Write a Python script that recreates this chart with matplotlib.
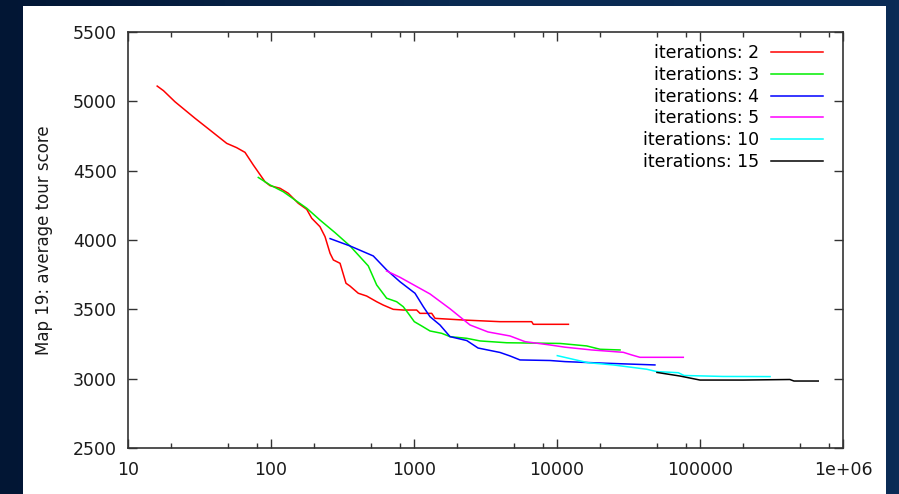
import numpy as np
import matplotlib
matplotlib.use('Agg')
import matplotlib.pyplot as plt
from matplotlib.patches import Rectangle
from matplotlib.ticker import FixedLocator, FixedFormatter

# values (x = iterations run, y = average tour score)
it2_x = [16, 17.7, 21.3, 29.4, 37.4, 49, 57.5, 65.8, 75.2, 90.8, 98.4, 115.6, 132, 155,
         177.8, 192.6, 220, 238.7, 258.8, 273, 304, 334.5, 356.6, 407.6, 466.5, 548,
         609, 716, 841, 1044, 1101, 1330, 1403, 2213, 3994, 6650, 6829, 12020]
it2_y = [5110, 5077, 4997, 4878, 4793, 4697, 4666, 4632, 4541, 4420, 4392, 4373, 4337, 4265,
         4221, 4157, 4096, 4024, 3904, 3856, 3832, 3688, 3668, 3616, 3596, 3555,
         3531, 3500, 3495, 3495, 3471, 3471, 3435, 3423, 3411, 3411, 3392, 3392]

it3_x = [81.5, 98.4, 121.9, 177.8, 220, 280.5, 357, 479, 548, 644, 756, 841, 912,
         1005, 1132, 1294, 1563, 1786, 2337, 2897, 4449, 10500, 16140, 20000, 27600]
it3_y = [4451, 4397, 4348, 4229, 4144, 4053, 3957, 3813, 3676, 3580, 3555, 3519, 3471,
         3411, 3380, 3344, 3327, 3303, 3291, 3272, 3259, 3254, 3236, 3212, 3207]

it4_x = [259, 357, 519, 644, 798, 1016, 1162, 1294, 1520, 1786, 2337, 2805, 3994,
         4690, 5510, 8930, 11380, 22230, 48400]
it4_y = [4010, 3957, 3885, 3784, 3699, 3616, 3519, 3447, 3387, 3303, 3275, 3221, 3189,
         3164, 3135, 3131, 3123, 3111, 3099]

it5_x = [643, 798, 1294, 1786, 2466, 3290, 4690, 5970, 8930, 11380, 17500, 29100,
         33300, 38000, 76400]
it5_y = [3777, 3731, 3611, 3504, 3387, 3337, 3308, 3267, 3243, 3227, 3207, 3190,
         3171, 3154, 3154]

it10_x = [10050, 16500, 24700, 42400, 49800, 70500, 77300, 145000, 309000]
it10_y = [3166, 3115, 3099, 3068, 3051, 3043, 3023, 3016, 3015]

it15_x = [50000, 72400, 100000, 200000, 425000, 454000, 671000]
it15_y = [3045, 3019, 2990, 2990, 2994, 2983, 2983]

series = [
    ('iterations: 2', it2_x, it2_y, '#ff0000'),
    ('iterations: 3', it3_x, it3_y, '#00ee00'),
    ('iterations: 4', it4_x, it4_y, '#0000ff'),
    ('iterations: 5', it5_x, it5_y, '#ff00ff'),
    ('iterations: 10', it10_x, it10_y, '#00ffff'),
    ('iterations: 15', it15_x, it15_y, '#000000'),
]

x_ticks = [10, 100, 1000, 10000, 100000, 1000000]
x_labels = ['10', '100', '1000', '10000', '100000', '1e+06']
y_ticks = [2500, 3000, 3500, 4000, 4500, 5000, 5500]

fig = plt.figure(figsize=(8.99, 4.94), dpi=100)

# slide background: dark navy gradient
bg = fig.add_axes([0, 0, 1, 1], zorder=-10)
grad = np.linspace(0, 1, 256).reshape(1, -1)
cmap = matplotlib.colors.LinearSegmentedColormap.from_list('navy', ['#021634', '#0a2a52', '#0b2c56'])
bg.imshow(grad, aspect='auto', cmap=cmap, extent=[0, 1, 0, 1])
bg.add_patch(Rectangle((23 / 899, 0), (886 - 23) / 899, 1 - 6 / 494,
                       facecolor='white', edgecolor='none'))
bg.set_xlim(0, 1)
bg.set_ylim(0, 1)
bg.axis('off')

ax = fig.add_axes([128 / 899, 1 - 448 / 494, 715 / 899, 416 / 494])
for label, xs, ys, col in series:
    ax.plot(xs, ys, color=col, lw=1.1, label=label)

ax.set_xscale('log')
ax.set_xlim(10, 1e6)
ax.set_ylim(2500, 5500)
ax.xaxis.set_major_locator(FixedLocator(x_ticks))
ax.xaxis.set_major_formatter(FixedFormatter(x_labels))
minors = [m * d for d in [10, 100, 1000, 10000, 100000] for m in (2, 5, 8)]
ax.xaxis.set_minor_locator(FixedLocator(minors))
ax.xaxis.set_minor_formatter(FixedFormatter([''] * len(minors)))
ax.set_yticks(y_ticks)

ax.tick_params(which='both', direction='in', top=True, right=True, colors='#333333',
               labelcolor='#1a1a1a', labelsize=12.5)
ax.tick_params(which='major', length=6.5, width=1.0)
ax.tick_params(which='minor', length=3.6, width=1.0)
ax.tick_params(axis='x', pad=9)
ax.tick_params(axis='y', pad=8)
for sp in ax.spines.values():
    sp.set_color('#333333')
    sp.set_linewidth(1.2)

ax.set_ylabel('Map 19: average tour score', fontsize=12, color='#1a1a1a', labelpad=14)

ax.legend(loc='upper right', bbox_to_anchor=(823 / 899, 1 - 44 / 494),
          bbox_transform=fig.transFigure, frameon=False, markerfirst=False,
          fontsize=12.5, handlelength=3.0, handletextpad=0.7, labelspacing=0.22,
          borderpad=0, borderaxespad=0)

fig.savefig('out.png', dpi=100)
